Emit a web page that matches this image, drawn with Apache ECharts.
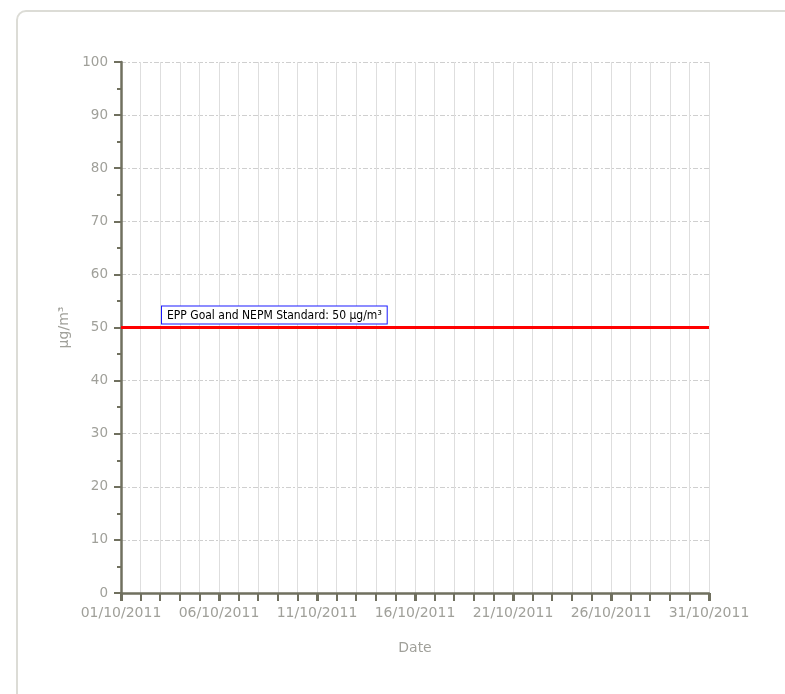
<!DOCTYPE html>
<html>
<head>
<meta charset="utf-8">
<script src="https://cdn.jsdelivr.net/npm/echarts@6/dist/echarts.min.js"></script>
<style>
html,body{margin:0;padding:0;background:#fff;}
#chart{width:785px;height:694px;}
</style>
</head>
<body>
<div id="chart"></div>
<script>
const categories = [
  '01/10/2011','02/10/2011','03/10/2011','04/10/2011','05/10/2011','06/10/2011','07/10/2011','08/10/2011',
  '09/10/2011','10/10/2011','11/10/2011','12/10/2011','13/10/2011','14/10/2011','15/10/2011','16/10/2011',
  '17/10/2011','18/10/2011','19/10/2011','20/10/2011','21/10/2011','22/10/2011','23/10/2011','24/10/2011',
  '25/10/2011','26/10/2011','27/10/2011','28/10/2011','29/10/2011','30/10/2011','31/10/2011'
];
const measuredValues = [];
const goalValue = 50;
const goalLabel = 'EPP Goal and NEPM Standard: 50 µg/m³';
const yTicks = [0, 10, 20, 30, 40, 50, 60, 70, 80, 90, 100];

const chart = echarts.init(document.getElementById('chart'), null, {renderer: 'canvas'});
const axisColor = '#70705f';
const textColor = '#a0a09a';
const font = 'DejaVu Sans';

chart.setOption({
  animation: false,
  graphic: [{
    type: 'rect',
    shape: {x: 17, y: 11, width: 820, height: 720, r: 9},
    style: {fill: 'none', stroke: '#dcdcd6', lineWidth: 2},
    silent: true
  }],
  grid: {left: 121, right: 76, top: 62, bottom: 101, containLabel: false},
  xAxis: [{
    type: 'category',
    data: categories,
    boundaryGap: false,
    name: 'Date',
    nameLocation: 'middle',
    nameGap: 48,
    nameTextStyle: {color: textColor, fontFamily: font, fontSize: 14},
    axisLine: {lineStyle: {color: axisColor, width: 2.5}},
    axisTick: {show: true, interval: 0, length: 8, lineStyle: {color: axisColor, width: 2}},
    axisLabel: {interval: 4, color: textColor, fontFamily: font, fontSize: 14, margin: 13},
    splitLine: {show: true, interval: 0, lineStyle: {color: '#dedede', width: 1}}
  }, {
    type: 'category',
    data: categories,
    boundaryGap: false,
    position: 'bottom',
    axisLine: {show: false},
    axisTick: {show: true, interval: 4, length: 8, lineStyle: {color: axisColor, width: 3}},
    axisLabel: {show: false},
    splitLine: {show: false}
  }],
  yAxis: {
    type: 'value',
    min: yTicks[0],
    max: yTicks[yTicks.length - 1],
    interval: 10,
    name: 'µg/m³',
    nameLocation: 'middle',
    nameRotate: 90,
    nameGap: 47,
    nameTextStyle: {color: textColor, fontFamily: font, fontSize: 14},
    axisLine: {show: true, lineStyle: {color: axisColor, width: 2.5}},
    axisTick: {show: true, length: 7, lineStyle: {color: axisColor, width: 2}},
    minorTick: {show: true, splitNumber: 2, length: 4, lineStyle: {color: axisColor, width: 2}},
    axisLabel: {color: textColor, fontFamily: font, fontSize: 13.5, margin: 13},
    splitLine: {show: true, lineStyle: {color: '#cfcfcf', width: 1, type: [5, 2, 2, 2]}}
  },
  series: [{
    type: 'line',
    data: measuredValues,
    xAxisIndex: 0,
    symbol: 'none',
    markLine: {
      silent: true,
      symbol: 'none',
      lineStyle: {color: '#ff0000', width: 3, type: 'solid'},
      data: [{yAxis: goalValue}],
      label: {
        show: true,
        position: 'insideStartTop',
        distance: [41, 4],
        formatter: goalLabel,
        color: '#000',
        fontFamily: 'DejaVu Sans Condensed',
        fontSize: 12,
        backgroundColor: '#fff',
        borderColor: '#1a1aff',
        borderWidth: 1,
        padding: [3, 5, 2, 5]
      }
    }
  }]
});
</script>
</body>
</html>
